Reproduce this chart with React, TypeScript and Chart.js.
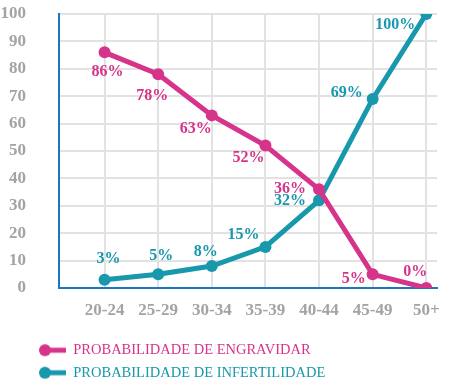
import React, { useEffect, useRef } from "react";
import { Chart, registerables } from "chart.js";

Chart.register(...registerables);

const categories = ["20-24", "25-29", "30-34", "35-39", "40-44", "45-49", "50+"];
const engravidar = [86, 78, 63, 52, 36, 5, 0];
const infertilidade = [3, 5, 8, 15, 32, 69, 100];
const seriesNames = ["PROBABILIDADE DE ENGRAVIDAR", "PROBABILIDADE DE INFERTILIDADE"];
const yTicks = [0, 10, 20, 30, 40, 50, 60, 70, 80, 90, 100];

// label offsets (style config) relative to each point
const pinkLabelOffsets = [[3, 19], [-6, 22], [-16, 13], [-17, 12], [-29, -1], [-19, 5], [-11, -16]];
const tealLabelOffsets = [[4, -21], [3, -18], [-6, -14], [-22, -12], [-29, 1], [-26, -6], [-31, 11]];

const PINK = "#d6348b";
const TEAL = "#1798ad";
const BLUE = "#1a78c2";
const GRID = "#e2e2e2";
const SERIF = "'Liberation Serif', 'DejaVu Serif', serif";

function makeSymbol(color: string): HTMLCanvasElement {
  const c = document.createElement("canvas");
  c.width = 58;
  c.height = 14;
  const ctx = c.getContext("2d")!;
  ctx.strokeStyle = color;
  ctx.fillStyle = color;
  ctx.lineWidth = 5;
  ctx.beginPath();
  ctx.moveTo(37, 7);
  ctx.lineTo(59, 7);
  ctx.stroke();
  ctx.beginPath();
  ctx.arc(37, 7, 6, 0, Math.PI * 2);
  ctx.fill();
  return c;
}

const labelPlugin = {
  id: "pointLabels",
  afterDatasetsDraw(chart: any) {
    const ctx = chart.ctx;
    ctx.save();
    ctx.font = `bold 16px ${SERIF}`;
    ctx.textAlign = "center";
    ctx.textBaseline = "middle";
    chart.data.datasets.forEach((ds: any, di: number) => {
      const meta = chart.getDatasetMeta(di);
      const offs = di === 0 ? pinkLabelOffsets : tealLabelOffsets;
      ctx.fillStyle = ds.borderColor;
      meta.data.forEach((pt: any, i: number) => {
        const v = ds.data[i].y;
        ctx.fillText(`${v}%`, pt.x + offs[i][0], pt.y + offs[i][1]);
      });
    });
    ctx.restore();
  },
};

export default function App() {
  const ref = useRef<HTMLCanvasElement>(null);
  useEffect(() => {
    document.body.style.margin = "0";
    const symbols = [makeSymbol(PINK), makeSymbol(TEAL)];
    const colors = [PINK, TEAL];
    const chart = new Chart(ref.current!, {
      type: "line",
      data: {
        datasets: [
          {
            label: seriesNames[0],
            data: engravidar.map((v, i) => ({ x: i, y: v })),
            borderColor: PINK,
            backgroundColor: PINK,
            borderWidth: 5,
            pointRadius: 6,
            pointBackgroundColor: PINK,
            pointBorderWidth: 0,
            tension: 0,
          },
          {
            label: seriesNames[1],
            data: infertilidade.map((v, i) => ({ x: i, y: v })),
            borderColor: TEAL,
            backgroundColor: TEAL,
            borderWidth: 5,
            pointRadius: 6,
            pointBackgroundColor: TEAL,
            pointBorderWidth: 0,
            tension: 0,
          },
        ],
      },
      options: {
        responsive: false,
        animation: false,
        layout: { padding: { top: 14, right: 13, left: 0, bottom: 0 } },
        plugins: {
          tooltip: { enabled: false },
          legend: {
            position: "bottom",
            align: "start",
            labels: {
              usePointStyle: true,
              pointStyleWidth: 58,
              padding: 8,
              font: { family: SERIF, size: 14.5 },
              generateLabels: () =>
                seriesNames.map((n, i) => ({
                  text: n,
                  fontColor: colors[i],
                  pointStyle: symbols[i],
                  datasetIndex: i,
                  hidden: false,
                  lineWidth: 0,
                  strokeStyle: "transparent",
                  fillStyle: colors[i],
                })),
            },
          },
        },
        scales: {
          x: {
            type: "linear",
            min: -0.85,
            max: 6.2,
            afterBuildTicks: (scale: any) => {
              scale.ticks = categories.map((_, i) => ({ value: i }));
            },
            afterFit: (scale: any) => {
              scale.height = 47;
              scale.paddingLeft = 0;
              scale.paddingRight = 0;
            },
            ticks: {
              callback: (v: any) => categories[v] ?? "",
              color: "#a3a3a3",
              font: { family: SERIF, size: 17, weight: "bold" },
              padding: 12,
              maxRotation: 0,
              autoSkip: false,
            },
            grid: { color: GRID, lineWidth: 2, drawTicks: false },
            border: { color: BLUE, width: 2 },
          },
          y: {
            min: 0,
            max: 100,
            afterBuildTicks: (scale: any) => {
              scale.ticks = yTicks.map((v) => ({ value: v }));
            },
            afterFit: (scale: any) => {
              scale.width = 59;
              scale.paddingTop = 0;
              scale.paddingBottom = 0;
            },
            ticks: {
              color: "#a3a3a3",
              font: { family: SERIF, size: 17, weight: "bold" },
              padding: 33,
            },
            grid: { color: GRID, lineWidth: 2, drawTicks: false },
            border: { color: BLUE, width: 2 },
          },
        },
      },
      plugins: [labelPlugin],
    } as any);
    return () => chart.destroy();
  }, []);
  return <canvas ref={ref} width={450} height={390} style={{ display: "block" }} />;
}
